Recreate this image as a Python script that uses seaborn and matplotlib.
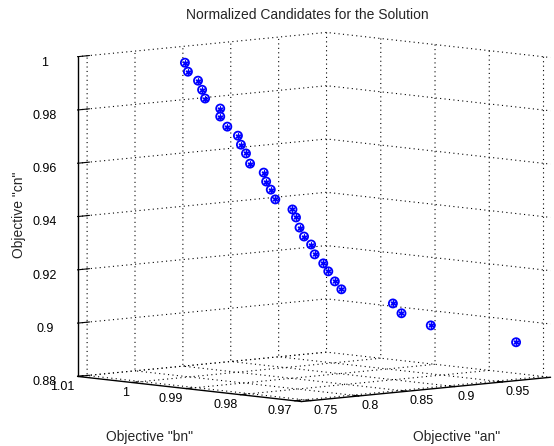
import numpy as np
import pandas as pd
import matplotlib
matplotlib.use("Agg")
import matplotlib.pyplot as plt
import seaborn as sns

sns.set_style("white")
plt.rcParams['font.family'] = ['Liberation Sans', 'DejaVu Sans']
plt.rcParams['grid.linestyle'] = (0, (1, 3))
plt.rcParams['grid.color'] = 'black'
plt.rcParams['grid.linewidth'] = 0.8

# normalized objectives of the candidate solutions
an = [0.770, 0.772, 0.778, 0.780, 0.782, 0.791, 0.791, 0.795, 0.801, 0.803,
      0.806, 0.808, 0.816, 0.818, 0.820, 0.823, 0.833, 0.835, 0.837, 0.840,
      0.844, 0.846, 0.851, 0.854, 0.858, 0.862, 0.892, 0.897, 0.914, 0.964]
bn = [0.9955, 0.9953, 0.9945, 0.9941, 0.9939, 0.9927, 0.9927, 0.9921, 0.9912, 0.9910,
      0.9906, 0.9902, 0.9891, 0.9890, 0.9885, 0.9882, 0.9868, 0.9865, 0.9862, 0.9859,
      0.9853, 0.9850, 0.9843, 0.9839, 0.9834, 0.9829, 0.9787, 0.9780, 0.9756, 0.9687]
cn = [1.000, 0.9966, 0.9932, 0.9898, 0.9865, 0.9827, 0.9797, 0.9759, 0.9725, 0.9691,
      0.9658, 0.9620, 0.9586, 0.9552, 0.9522, 0.9485, 0.9447, 0.9417, 0.9379, 0.9345,
      0.9315, 0.9278, 0.9244, 0.9214, 0.9176, 0.9146, 0.9092, 0.9055, 0.9009, 0.8944]

an_ticks = [0.75, 0.8, 0.85, 0.9, 0.95]
bn_ticks = [0.97, 0.98, 0.99, 1.0, 1.01]
cn_ticks = [0.88, 0.9, 0.92, 0.94, 0.96, 0.98, 1.0]

df = pd.DataFrame({'an': an, 'bn': bn, 'cn': cn})

fig = plt.figure(figsize=(5.54, 4.46), dpi=100)
ax = fig.add_axes([0.056, 0.0, 1.0, 1.0], projection='3d')
ax.set_proj_type('ortho')
ax.view_init(elev=6, azim=-133)
ax.set_box_aspect((341, 329, 322), zoom=1.245)

ax.scatter(df['an'], df['bn'], df['cn'], marker='o', facecolors='none',
           edgecolors='blue', s=34, linewidths=1.3, depthshade=False)
ax.scatter(df['an'], df['bn'], df['cn'], marker=(6, 2, 0), c='blue',
           s=12, linewidths=1.0, depthshade=False)

ax.set_xlim(0.74, 1.0)
ax.set_ylim(0.9687, 1.01)
ax.set_zlim(0.88, 1.0)
ax.set_xticks(an_ticks)
ax.set_yticks(bn_ticks)
ax.set_zticks(cn_ticks)
ax.set_xticklabels(['%g' % t for t in an_ticks], ha='left')
ax.set_yticklabels(['%g' % t for t in bn_ticks], ha='right')
ax.set_zticklabels(['%g' % t for t in cn_ticks])
ax.tick_params(labelsize=9, colors='black')
ax.tick_params(axis='x', pad=-6)
ax.tick_params(axis='y', pad=-6)

for axis in (ax.xaxis, ax.yaxis, ax.zaxis):
    axis.set_pane_color((1, 1, 1, 0))
    axis.pane.set_edgecolor('none')
    axis.line.set_color('black')
    axis.line.set_linewidth(1.0)
    axis._axinfo['tick']['inward_factor'] = 0.0
    axis._axinfo['tick']['outward_factor'] = 0.3
ax.zaxis._axinfo['tick']['outward_factor'] = 0.6

ax.grid(True)

fig.text(307 / 554, 1 - 15 / 446, 'Normalized Candidates for the Solution',
         ha='center', va='center', fontsize=10)
fig.text(149 / 554, 1 - 437 / 446, 'Objective "bn"', ha='center', va='center', fontsize=10)
fig.text(457 / 554, 1 - 437 / 446, 'Objective "an"', ha='center', va='center', fontsize=10)
fig.text(19 / 554, 1 - 215 / 446, 'Objective "cn"', ha='center', va='center',
         fontsize=10, rotation=90)

fig.savefig('out.png', dpi=100)
